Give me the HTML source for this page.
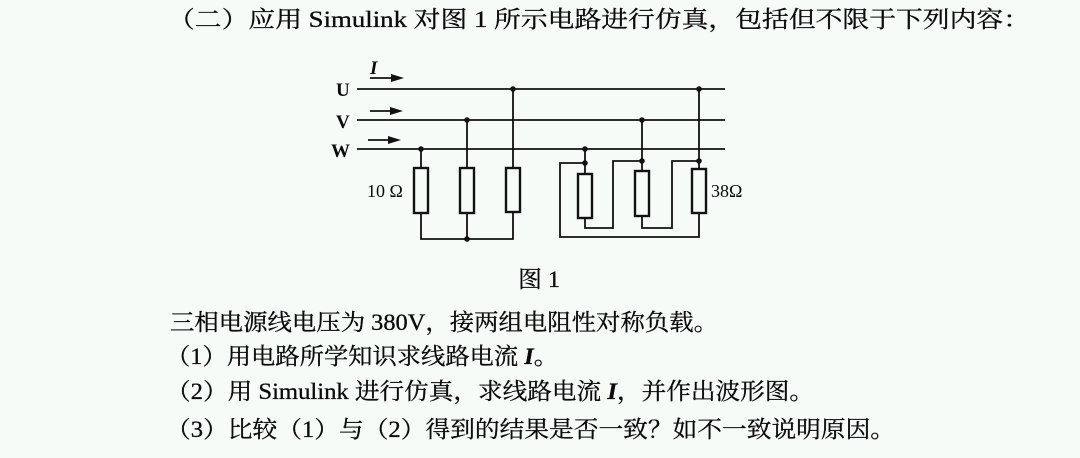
<!DOCTYPE html>
<html><head><meta charset="utf-8"><style>
html,body{margin:0;padding:0;background:#f6fbf8;}
svg{display:block}
text{font-family:"Liberation Serif","Noto Serif CJK SC",serif;fill:#0a0a0a;}
</style></head><body>
<svg width="1080" height="458" viewBox="0 0 1080 458" xmlns="http://www.w3.org/2000/svg">
<rect width="1080" height="458" fill="#f6fbf8"/>
<g font-size="23" stroke="#0a0a0a" stroke-width="0.3">
<text x="168" y="27" textLength="862" lengthAdjust="spacingAndGlyphs">（二）应用 Simulink 对图 1 所示电路进行仿真，包括但不限于下列内容：</text>
<text x="518" y="287" textLength="42" lengthAdjust="spacingAndGlyphs">图 1</text>
<text x="170" y="330" textLength="548" lengthAdjust="spacingAndGlyphs">三相电源线电压为 380V，接两组电阻性对称负载。</text>
<text x="166" y="364" textLength="392" lengthAdjust="spacingAndGlyphs">（1）用电路所学知识求线路电流 <tspan font-style="italic" font-weight="bold">I</tspan>。</text>
<text x="166" y="399" textLength="648" lengthAdjust="spacingAndGlyphs">（2）用 Simulink 进行仿真，求线路电流 <tspan font-style="italic" font-weight="bold">I</tspan>，并作出波形图。</text>
<text x="166" y="437" textLength="729" lengthAdjust="spacingAndGlyphs">（3）比较（1）与（2）得到的结果是否一致？如不一致说明原因。</text>
</g>
<g stroke="#111" stroke-width="1.8" fill="none">
<line x1="357" y1="89" x2="725" y2="89"/>
<line x1="357" y1="120" x2="725" y2="120"/>
<line x1="357" y1="149" x2="725" y2="149"/>
<line x1="370" y1="78" x2="398" y2="78"/><line x1="370" y1="111" x2="397" y2="111"/><line x1="368" y1="140" x2="395" y2="140"/>
<line x1="421" y1="149" x2="421" y2="168"/>
<line x1="467" y1="120" x2="467" y2="168"/>
<line x1="513" y1="89" x2="513" y2="168"/>
<polyline points="421,213 421,239 513,239 513,212"/>
<line x1="467" y1="213" x2="467" y2="239"/>
<rect x="414" y="168" width="14" height="45" stroke-width="2.4"/>
<rect x="460" y="168" width="14" height="45" stroke-width="2.4"/>
<rect x="506" y="168" width="14" height="44" stroke-width="2.4"/>
<line x1="585" y1="149" x2="585" y2="174"/>
<line x1="642" y1="120" x2="642" y2="171"/>
<line x1="699" y1="89" x2="699" y2="169"/>
<polyline points="585,163 560,163 560,237 699,237 699,213"/>
<polyline points="585,218 585,228 613,228 613,161 642,161"/>
<polyline points="642,216 642,228 672,228 672,161 699,161"/>
<rect x="578" y="174" width="14" height="44" stroke-width="2.4"/>
<rect x="635" y="171" width="14" height="45" stroke-width="2.4"/>
<rect x="692" y="169" width="14" height="44" stroke-width="2.4"/>
</g>
<g fill="#111">
<polygon points="391,74 404,78 391,82"/><polygon points="390,107 403,111 390,115"/><polygon points="388,136 401,140 388,144"/>
<circle cx="513" cy="89" r="2.8"/><circle cx="699" cy="89" r="2.8"/>
<circle cx="467" cy="120" r="2.8"/><circle cx="642" cy="120" r="2.8"/>
<circle cx="421" cy="149" r="2.8"/><circle cx="585" cy="149" r="2.8"/>
<circle cx="467" cy="239" r="2.8"/>
<circle cx="585" cy="163" r="2.8"/><circle cx="642" cy="161" r="2.8"/><circle cx="699" cy="161" r="2.8"/>
</g>
<g font-size="19" font-weight="bold">
<text x="336" y="96">U</text>
<text x="336" y="128">V</text>
<text x="331" y="157">W</text>
<text x="370" y="74" font-style="italic">I</text>
</g>
<text x="367" y="197" font-size="18">10 Ω</text>
<text x="711" y="197" font-size="18">38Ω</text>
</svg>
</body></html>
